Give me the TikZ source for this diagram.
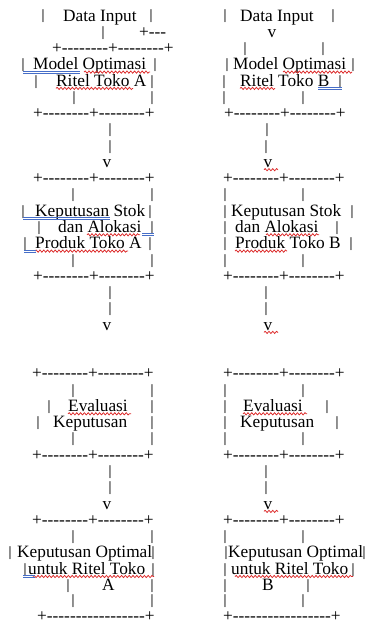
\documentclass[tikz,border=0pt]{standalone}
\usepackage{fontspec}
\usepackage{graphicx}
\newfontfamily\ser{Liberation Serif}[Ligatures=TeXOff]
\usetikzlibrary{decorations.pathmorphing}
\definecolor{spellred}{RGB}{220,40,40}
\definecolor{gramblue}{RGB}{70,110,200}
\tikzset{
  txt/.style={anchor=base west, inner sep=0pt, font={\ser\fontsize{17.3}{20}\selectfont}},
  vbar/.style={anchor=base, inner sep=0pt, font={\ser\fontsize{17.3}{20}\selectfont}},
  wavy/.style={draw=spellred, line width=0.75pt, decorate, decoration={snake, amplitude=1.1pt, segment length=3.8pt}},
  blu/.style={draw=gramblue, line width=0.7pt}
}
\newcommand\shortbar{\raisebox{1.1pt}{\scalebox{1}[0.82]{|}}}
\newcommand\vb[3]{\node[vbar] (#1) at (#2,#3) {\shortbar};}
\newcommand\vv[3]{\node[vbar] (#1) at (#2,#3) {v};}
\newcommand\tx[4]{\node[txt] (#1) at (#2,#3) {#4};}
\newcommand\plx{+--------+--------+}
\newcommand\plong{+-----------------+}
\newcommand\wavyu[3]{\draw[wavy] (#1,{#3+2.3}) -- (#2,{#3+2.3});}
\newcommand\blueu[3]{\draw[blu] (#1,{#3+1.3}) -- (#2,{#3+1.3}); \draw[blu] (#1,{#3+3.2}) -- (#2,{#3+3.2});}
\begin{document}
\begin{tikzpicture}[x=1pt,y=-1pt]
\useasboundingbox (0,0) rectangle (367,624);
% line 1
\vb{L1a}{43}{21.0} \tx{L1t}{63}{21.0}{Data Input} \vb{L1b}{151}{21.0}
\vb{R1a}{225}{21.0} \tx{R1t}{240}{21.0}{Data Input} \vb{R1b}{333}{21.0}
% line 2
\vb{L2a}{103}{37.3} \tx{L2p}{139}{37.3}{+---}
\vv{R2v}{272}{37.3}
% line 3
\tx{L3p}{52}{53.5}{\plx}
\vb{R3a}{245}{53.5} \vb{R3b}{323}{53.5}
% line 4
\vb{L4a}{23}{69.8} \tx{L4t}{33}{69.8}{Model Optimasi} \vb{L4b}{155}{69.8}
\vb{R4a}{227}{69.8} \tx{R4t}{233}{69.8}{Model Optimasi} \vb{R4b}{353}{69.8}
% line 5
\vb{L5a}{36}{86.1} \tx{L5t}{56}{86.1}{Ritel Toko A} \vb{L5b}{152}{86.1}
\vb{R5a}{224}{86.1} \tx{R5t}{240}{86.1}{Ritel Toko B} \vb{R5b}{340}{86.1}
% line 6
\vb{L6a}{74}{102.4} \vb{L6b}{152}{102.4}
\vb{R6a}{224}{102.4} \vb{R6b}{303}{102.4}
% line 7
\tx{L7p}{33}{118.6}{\plx} \tx{R7p}{224}{118.6}{\plx}
% lines 8-10
\vb{L8}{110}{134.9} \vb{R8}{267}{134.9}
\vb{L9}{110}{151.2} \vb{R9}{266}{151.2}
\vv{L10}{107}{167.4} \vv{R10}{268}{167.4}
% line 11
\tx{L11p}{33}{183.7}{\plx} \tx{R11p}{223}{183.7}{\plx}
% line 12
\vb{L12a}{73}{200.0} \vb{L12b}{152}{200.0}
\vb{R12a}{225}{200.0} \vb{R12b}{303}{200.0}
% line 13
\vb{L13a}{23}{216.2} \tx{L13t}{35}{216.2}{Keputusan Stok} \vb{L13b}{150}{216.2}
\vb{R13a}{225}{216.2} \tx{R13t}{231}{216.2}{Keputusan Stok} \vb{R13b}{352}{216.2}
% line 14
\vb{L14a}{39}{232.5} \tx{L14t}{58}{232.5}{dan Alokasi} \vb{L14b}{152}{232.5}
\vb{R14a}{225}{232.5} \tx{R14t}{235}{232.5}{dan Alokasi} \vb{R14b}{337}{232.5}
% line 15
\vb{L15a}{25}{248.8} \tx{L15t}{35}{248.8}{Produk Toko A} \vb{L15b}{150}{248.8}
\vb{R15a}{225}{248.8} \tx{R15t}{235}{248.8}{Produk Toko B} \vb{R15b}{351}{248.8}
% line 16
\vb{L16a}{73}{265.1} \vb{L16b}{152}{265.1}
\vb{R16a}{225}{265.1} \vb{R16b}{303}{265.1}
% line 17
\tx{L17p}{33}{281.3}{\plx} \tx{R17p}{223}{281.3}{\plx}
% lines 18-20
\vb{L18}{110}{297.6} \vb{R18}{266}{297.6}
\vb{L19}{110}{313.9} \vb{R19}{266}{313.9}
\vv{L20}{107}{330.1} \vv{R20}{268}{330.1}
% line 23
\tx{L23p}{32}{378.9}{\plx} \tx{R23p}{223}{378.9}{\plx}
% line 24
\vb{L24a}{73}{395.2} \vb{L24b}{152}{395.2}
\vb{R24a}{225}{395.2} \vb{R24b}{303}{395.2}
% line 25
\vb{L25a}{49}{411.5} \tx{L25t}{68}{411.5}{Evaluasi} \vb{L25b}{152}{411.5}
\vb{R25a}{225}{411.5} \tx{R25t}{243}{411.5}{Evaluasi} \vb{R25b}{327}{411.5}
% line 26
\vb{L26a}{38}{427.8} \tx{L26t}{53}{427.8}{Keputusan} \vb{L26b}{152}{427.8}
\vb{R26a}{225}{427.8} \tx{R26t}{240}{427.8}{Keputusan} \vb{R26b}{337}{427.8}
% line 27
\vb{L27a}{73}{444.0} \vb{L27b}{152}{444.0}
\vb{R27a}{225}{444.0} \vb{R27b}{303}{444.0}
% line 28
\tx{L28p}{32}{460.3}{\plx} \tx{R28p}{223}{460.3}{\plx}
% lines 29-31
\vb{L29}{110}{476.6} \vb{R29}{266}{476.6}
\vb{L30}{110}{492.8} \vb{R30}{266}{492.8}
\vv{L31}{107}{509.1} \vv{R31}{268}{509.1}
% line 32
\tx{L32p}{32}{525.4}{\plx} \tx{R32p}{223}{525.4}{\plx}
% line 33
\vb{L33a}{73}{541.6} \vb{L33b}{152}{541.6}
\vb{R33a}{225}{541.6} \vb{R33b}{303}{541.6}
% line 34
\vb{L34a}{10}{557.9} \tx{L34t}{17}{557.9}{Keputusan Optimal} \vb{L34b}{153}{557.9}
\vb{R34a}{226}{557.9} \tx{R34t}{228}{557.9}{Keputusan Optimal} \vb{R34b}{364}{557.9}
% line 35
\vb{L35a}{25}{574.2} \tx{L35t}{28}{574.2}{untuk Ritel Toko} \vb{L35b}{153}{574.2}
\vb{R35a}{225}{574.2} \tx{R35t}{231}{574.2}{untuk Ritel Toko} \vb{R35b}{353}{574.2}
% line 36
\vb{L36a}{68}{590.4} \tx{L36t}{102}{590.4}{A} \vb{L36b}{152}{590.4}
\vb{R36a}{225}{590.4} \tx{R36t}{262}{590.4}{B} \vb{R36b}{308}{590.4}
% line 37
\vb{L37a}{73}{606.0} \vb{L37b}{152}{606.0}
\vb{R37a}{225}{606.0} \vb{R37b}{303}{606.0}
% line 38
\tx{L38p}{37}{621.5}{\plong} \tx{R38p}{223}{621.5}{\plong}
% spell-check marks
\wavyu{84}{150}{69.8} \wavyu{283}{352}{69.8}
\wavyu{56}{133}{86.1} \wavyu{240}{275}{86.1}
\wavyu{264}{278}{167.4}
\wavyu{87}{140}{232.5} \wavyu{266}{319}{232.5}
\wavyu{35}{128}{248.8} \wavyu{235}{287}{248.8}
\wavyu{264}{278}{330.1}
\wavyu{68}{131}{411.5} \wavyu{243}{307}{411.5}
\wavyu{264}{278}{509.1}
\wavyu{33}{154}{574.2} \wavyu{235}{353}{574.2}
\blueu{23}{80}{69.8}
\blueu{318}{342}{86.1}
\blueu{23}{110}{216.2}
\blueu{142}{154}{232.5}
\blueu{24}{36}{248.8}
\blueu{23}{35}{574.2}
\end{tikzpicture}
\end{document}
